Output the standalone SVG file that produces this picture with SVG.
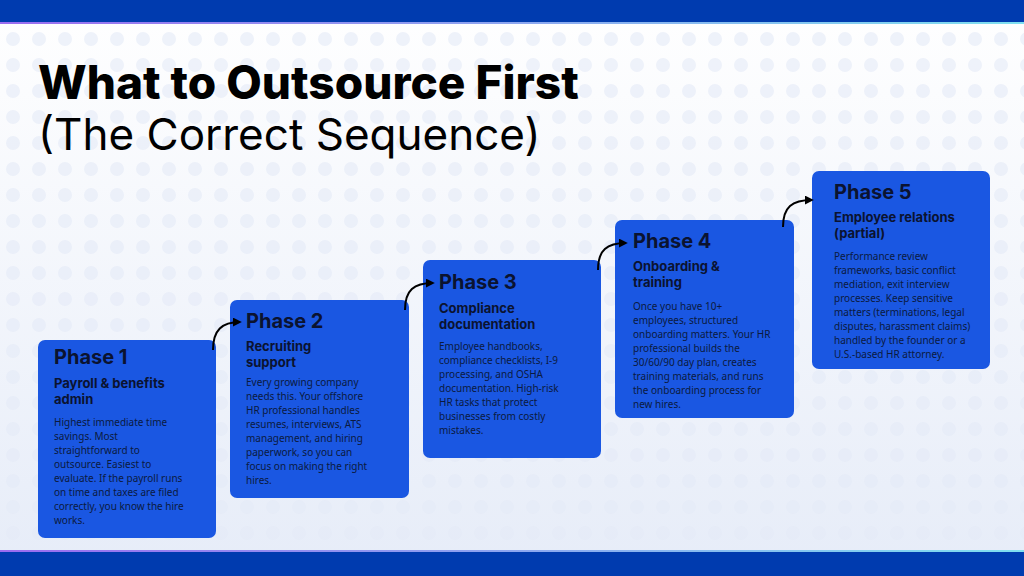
<svg xmlns="http://www.w3.org/2000/svg" width="1024" height="576" viewBox="0 0 1024 576">
<style>
.box{fill:#1a57e2}
.ph{font-family:"Inter","Liberation Sans",sans-serif;font-weight:700;font-size:20px;fill:#0b1330}
.sub{font-family:"Inter","Liberation Sans",sans-serif;font-weight:700;font-size:13px;fill:#0b1330}
.body{font-family:"Noto Sans","Liberation Sans",sans-serif;font-size:10px;fill:#0b1a40}
.conn{fill:none;stroke:#000;stroke-width:2}
</style>
<defs>
<marker id="ah" viewBox="0 0 10 10" refX="8" refY="5" markerWidth="4.5" markerHeight="4.5" orient="auto"><path d="M0,0 L10,5 L0,10 Z" fill="#000"/></marker>
<pattern id="dots" width="26" height="26" patternUnits="userSpaceOnUse"><circle cx="13" cy="13" r="7" fill="#e4eaf7"/></pattern>
<linearGradient id="bg" x1="0" y1="0" x2="0" y2="1"><stop offset="0" stop-color="#ffffff"/><stop offset="1" stop-color="#e6ecf8"/></linearGradient>
<linearGradient id="line" x1="0" x2="1"><stop offset="0" stop-color="#9a6cf0"/><stop offset="1" stop-color="#7fe0f0"/></linearGradient>
</defs>
<rect width="1024" height="576" fill="url(#bg)"/>
<rect x="0" y="24" width="1024" height="527" fill="url(#dots)" opacity="0.6"/>
<rect x="0" y="0" width="1024" height="23" fill="#003baf"/>
<rect x="0" y="22" width="1024" height="2" fill="url(#line)"/>
<rect x="0" y="551" width="1024" height="25" fill="#003baf"/>
<rect x="0" y="550" width="1024" height="2" fill="url(#line)"/>
<text x="38" y="99" font-family="Inter,'Liberation Sans',sans-serif" font-weight="800" font-size="46" fill="#000">What to Outsource First</text>
<text x="38" y="150" font-family="Inter,'Liberation Sans',sans-serif" font-size="44" fill="#000">(The Correct Sequence)</text>
<g id="phase1">
<rect class="box" x="38" y="340" width="178" height="198" rx="7"/>
<text class="ph" x="54" y="364">Phase 1</text>
<text class="sub" x="54" y="388">Payroll &amp; benefits</text>
<text class="sub" x="54" y="404">admin</text>
<text class="body"><tspan x="54" y="426">Highest immediate time</tspan><tspan x="54" y="440">savings. Most</tspan><tspan x="54" y="454">straightforward to</tspan><tspan x="54" y="468">outsource. Easiest to</tspan><tspan x="54" y="482">evaluate. If the payroll runs</tspan><tspan x="54" y="496">on time and taxes are filed</tspan><tspan x="54" y="510">correctly, you know the hire</tspan><tspan x="54" y="524">works.</tspan></text>
</g>
<g id="phase2">
<rect class="box" x="230" y="300" width="179" height="198" rx="7"/>
<text class="ph" x="246" y="328">Phase 2</text>
<text class="sub" x="246" y="351">Recruiting</text>
<text class="sub" x="246" y="367">support</text>
<text class="body"><tspan x="246" y="386">Every growing company</tspan><tspan x="246" y="400">needs this. Your offshore</tspan><tspan x="246" y="414">HR professional handles</tspan><tspan x="246" y="428">resumes, interviews, ATS</tspan><tspan x="246" y="442">management, and hiring</tspan><tspan x="246" y="456">paperwork, so you can</tspan><tspan x="246" y="470">focus on making the right</tspan><tspan x="246" y="484">hires.</tspan></text>
</g>
<g id="phase3">
<rect class="box" x="423" y="260" width="178" height="198" rx="7"/>
<text class="ph" x="439" y="289">Phase 3</text>
<text class="sub" x="439" y="313">Compliance</text>
<text class="sub" x="439" y="329">documentation</text>
<text class="body"><tspan x="439" y="350">Employee handbooks,</tspan><tspan x="439" y="364">compliance checklists, I-9</tspan><tspan x="439" y="378">processing, and OSHA</tspan><tspan x="439" y="392">documentation. High-risk</tspan><tspan x="439" y="406">HR tasks that protect</tspan><tspan x="439" y="420">businesses from costly</tspan><tspan x="439" y="434">mistakes.</tspan></text>
</g>
<g id="phase4">
<rect class="box" x="615" y="220" width="179" height="198" rx="7"/>
<text class="ph" x="633" y="248">Phase 4</text>
<text class="sub" x="633" y="271">Onboarding &amp;</text>
<text class="sub" x="633" y="287">training</text>
<text class="body"><tspan x="633" y="310">Once you have 10+</tspan><tspan x="633" y="324">employees, structured</tspan><tspan x="633" y="338">onboarding matters. Your HR</tspan><tspan x="633" y="352">professional builds the</tspan><tspan x="633" y="366">30/60/90 day plan, creates</tspan><tspan x="633" y="380">training materials, and runs</tspan><tspan x="633" y="394">the onboarding process for</tspan><tspan x="633" y="408">new hires.</tspan></text>
</g>
<g id="phase5">
<rect class="box" x="812" y="171" width="178" height="198" rx="7"/>
<text class="ph" x="834" y="199">Phase 5</text>
<text class="sub" x="834" y="222">Employee relations</text>
<text class="sub" x="834" y="238">(partial)</text>
<text class="body"><tspan x="834" y="260">Performance review</tspan><tspan x="834" y="274">frameworks, basic conflict</tspan><tspan x="834" y="288">mediation, exit interview</tspan><tspan x="834" y="302">processes. Keep sensitive</tspan><tspan x="834" y="316">matters (terminations, legal</tspan><tspan x="834" y="330">disputes, harassment claims)</tspan><tspan x="834" y="344">handled by the founder or a</tspan><tspan x="834" y="358">U.S.-based HR attorney.</tspan></text>
</g>
<g id="connectors">
<path class="conn" d="M213,350 C213,330 222,322 240,322" marker-end="url(#ah)"/>
<path class="conn" d="M405,310 C405,290 414,283 433,283" marker-end="url(#ah)"/>
<path class="conn" d="M598,270 C598,250 607,243 626,243" marker-end="url(#ah)"/>
<path class="conn" d="M783,227 C783,207 792,200 812,200" marker-end="url(#ah)"/>
</g>
</svg>
